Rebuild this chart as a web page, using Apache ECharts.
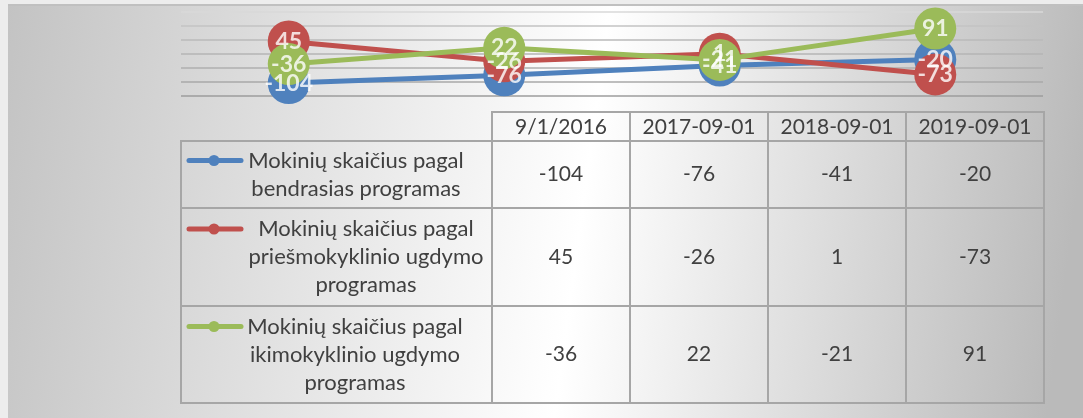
<!DOCTYPE html>
<html>
<head>
<meta charset="utf-8">
<script src="https://cdn.jsdelivr.net/npm/echarts@6/dist/echarts.min.js"></script>
<style>
    html, body { margin: 0; padding: 0; background: #ededed; }
    #chart { width: 1083px; height: 418px; }
</style>
</head>
<body>
<div id="chart"></div>

<script>
// data
var categories = ['9/1/2016', '2017-09-01', '2018-09-01', '2019-09-01'];
var seriesNames = [
    'Mokinių skaičius pagal bendrasias programas',
    'Mokinių skaičius pagal priešmokyklinio ugdymo programas',
    'Mokinių skaičius pagal ikimokyklinio ugdymo programas'
];
// how the names wrap inside the table
var seriesNameLines = [
    ['Mokinių skaičius pagal', 'bendrasias programas'],
    ['Mokinių skaičius pagal', 'priešmokyklinio ugdymo', 'programas'],
    ['Mokinių skaičius pagal', 'ikimokyklinio ugdymo', 'programas']
];
var bendrasias = [-104, -76, -41, -20];
var priesmokyklinio = [45, -26, 1, -73];
var ikimokyklinio = [-36, 22, -21, 91];
var colors = ['#4f81bd', '#c0504d', '#9bbb59'];

(function(){
    var myChart = echarts.init(document.getElementById('chart'));
    var values = [bendrasias, priesmokyklinio, ikimokyklinio];
    var font = 'Lato, "Liberation Sans", sans-serif';

    // table geometry
    var tLeft = 181, colStart = 492, colW = 138;
    var headTop = 112, rowTops = [141, 208, 306, 403];
    var textCenters = [356, 366, 355];
    var lineH = 28;
    var border = { stroke: '#a6a6a6', lineWidth: 2 };
    var txtColor = '#404040';

    var graphic = [];
    // chart area background
    graphic.push({
        type: 'rect', z: -10, silent: true,
        shape: { x: 8, y: 5, width: 1075, height: 413 },
        style: {
            fill: new echarts.graphic.LinearGradient(0, 0, 1, 0.35, [
                { offset: 0, color: '#c3c3c3' },
                { offset: 0.55, color: '#ffffff' },
                { offset: 1, color: '#bababa' }
            ])
        }
    });
    graphic.push({
        type: 'line', z: -9, silent: true,
        shape: { x1: 8, y1: 5, x2: 1083, y2: 5 },
        style: { stroke: '#c0c0c0', lineWidth: 2 }
    });

    // header cells
    categories.forEach(function(c, i){
        var x = colStart + i * colW;
        graphic.push({ type: 'rect', shape: { x: x, y: headTop, width: colW, height: rowTops[0] - headTop }, style: { fill: null, stroke: border.stroke, lineWidth: border.lineWidth } });
        graphic.push({ type: 'text', x: x + colW / 2, y: (headTop + rowTops[0]) / 2 + 1,
            style: { text: c, font: '21px ' + font, fill: txtColor, align: 'center', verticalAlign: 'middle' } });
    });

    // body rows
    values.forEach(function(vals, r){
        var y0 = rowTops[r], y1 = rowTops[r + 1], cy = (y0 + y1) / 2;
        graphic.push({ type: 'rect', shape: { x: tLeft, y: y0, width: colStart - tLeft, height: y1 - y0 }, style: { fill: null, stroke: border.stroke, lineWidth: border.lineWidth } });
        var lines = seriesNameLines[r];
        var firstY = cy - (lines.length - 1) * lineH / 2;
        graphic.push({ type: 'text', x: textCenters[r], y: firstY - lineH / 2,
            style: { text: lines.join('\n'), font: '22px ' + font, fill: txtColor, align: 'center', verticalAlign: 'top', lineHeight: lineH } });
        // legend key
        graphic.push({ type: 'line', shape: { x1: 189, y1: firstY, x2: 241, y2: firstY }, style: { stroke: colors[r], lineWidth: 5, lineCap: 'round' } });
        graphic.push({ type: 'circle', shape: { cx: 214, cy: firstY, r: 5.5 }, style: { fill: colors[r] } });
        vals.forEach(function(v, i){
            var x = colStart + i * colW;
            graphic.push({ type: 'rect', shape: { x: x, y: y0, width: colW, height: y1 - y0 }, style: { fill: null, stroke: border.stroke, lineWidth: border.lineWidth } });
            graphic.push({ type: 'text', x: x + colW / 2, y: cy,
                style: { text: String(v), font: '21px ' + font, fill: txtColor, align: 'center', verticalAlign: 'middle' } });
        });
    });

    var series = [];
    values.forEach(function(vals, r){
        series.push({
            name: seriesNames[r],
            type: 'line',
            data: vals,
            z: 2 + r,
            symbol: 'circle',
            symbolSize: 42,
            lineStyle: { width: 5, color: colors[r], cap: 'round' },
            itemStyle: { color: colors[r] },
            label: { show: false },
            animation: false
        });
    });
    // labels on top of every marker
    values.forEach(function(vals, r){
        series.push({
            name: seriesNames[r] + ' label',
            type: 'scatter',
            data: vals,
            z: 10,
            symbolSize: 1,
            itemStyle: { color: 'rgba(0,0,0,0)' },
            label: {
                show: true, position: 'inside',
                color: '#ffffff', fontFamily: 'Lato, "Liberation Sans", sans-serif',
                fontWeight: 'bold', fontSize: 23
            },
            animation: false
        });
    });

    var option = {
        backgroundColor: '#ededed',
        animation: false,
        grid: { left: 181, right: 40, top: 12, height: 84 },
        xAxis: {
            type: 'category',
            data: categories,
            boundaryGap: true,
            axisLine: { show: false },
            axisTick: { show: false },
            axisLabel: { show: false }
        },
        yAxis: {
            type: 'value',
            min: -150,
            max: 150,
            interval: 50,
            axisLabel: { show: false },
            axisLine: { show: false },
            axisTick: { show: false },
            splitLine: {
                lineStyle: {
                    width: 1.5,
                    color: ['#9c9c9c', '#a8a8a8', '#afafaf', '#b4b4b4', '#bababa', '#c3c3c3', '#d9d9d9']
                }
            }
        },
        graphic: graphic,
        series: series
    };

    myChart.setOption(option);
})()
</script>
</body>
</html>
